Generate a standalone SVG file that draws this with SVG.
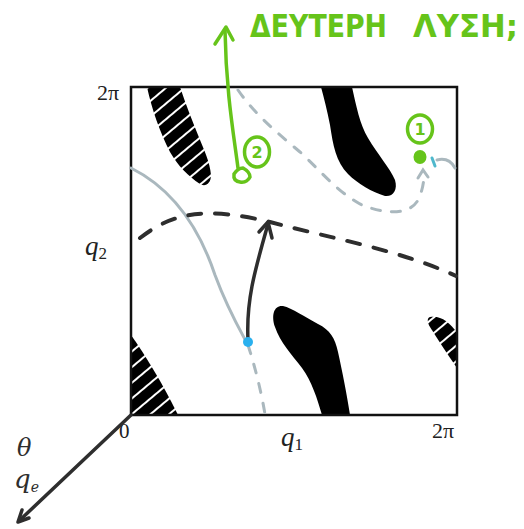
<svg xmlns="http://www.w3.org/2000/svg" width="524" height="529" viewBox="0 0 524 529">
<defs>
<pattern id="hatch" patternUnits="userSpaceOnUse" width="12" height="12" patternTransform="rotate(-40)">
<rect width="12" height="12" fill="#000"/>
<line x1="0" y1="6" x2="12" y2="6" stroke="#fff" stroke-width="2"/>
</pattern>
<style>
.solid{fill:#000}
.hat{fill:url(#hatch)}
.gray{fill:none;stroke:#aab8be;stroke-width:3;stroke-linecap:round}
.gdash{stroke-dasharray:9 11}
.kdash{fill:none;stroke:#2e2e2e;stroke-width:4;stroke-linecap:round;stroke-dasharray:13 14}
.ink{fill:none;stroke:#2e2e2e;stroke-width:3.5;stroke-linecap:round;stroke-linejoin:round}
.grn{fill:none;stroke:#66c41a;stroke-width:3.5;stroke-linecap:round;stroke-linejoin:round}
.lbl{font-family:"Liberation Serif","DejaVu Serif",serif;fill:#222}
.hand{font-family:"DejaVu Sans","Liberation Sans",sans-serif;fill:#66c41a}
</style>
</defs>
<rect width="524" height="529" fill="#fff"/>

<g id="regions">
<path class="hat" d="M 147 87 L 180 87 C 186 105, 192 120, 198 135 C 204 150, 210 162, 211 175 C 211 184, 205 187, 200 184 C 188 176, 178 166, 170 152 C 160 132, 152 110, 147 87 Z"/>
<path class="solid" d="M 321 87 L 352 87 C 356 105, 360 125, 368 138 C 378 155, 390 168, 395 180 C 398 190, 393 197, 385 196 C 372 192, 358 184, 348 174 C 336 162, 333 145, 330 125 C 327 110, 324 98, 321 87 Z"/>
<path class="solid" d="M 322 415 L 350 415 C 347 395, 342 370, 338 352 C 335 338, 330 330, 318 324 C 305 317, 292 308, 283 306 C 274 305, 271 315, 275 327 C 280 342, 292 355, 302 368 C 312 382, 317 398, 322 415 Z"/>
<path class="hat" d="M 131 335 C 145 355, 162 382, 178 415 L 131 415 Z"/>
<path class="hat" d="M 430 317 C 440 315, 450 322, 457 333 L 457 368 C 448 355, 438 340, 430 327 C 427 322, 427 318, 430 317 Z"/>
</g>

<g id="frame">
<rect x="131" y="87" width="326" height="328" fill="none" stroke="#111" stroke-width="2.5"/>
</g>

<g id="labels">
<text class="lbl" x="97" y="100" font-size="22">2π</text>
<text class="lbl" x="432" y="438" font-size="22">2π</text>
<text class="lbl" x="119" y="438" font-size="21" fill="#555">0</text>
<text class="lbl" x="281" y="446" font-size="27"><tspan font-style="italic">q</tspan><tspan font-size="17" dy="4">1</tspan></text>
<text class="lbl" x="85" y="255" font-size="27"><tspan font-style="italic">q</tspan><tspan font-size="17" dy="4">2</tspan></text>
</g>

<g id="connectors">
<path class="gray" d="M 131 168 C 175 190, 200 230, 215 275 C 228 310, 240 330, 248 345"/>
<path class="gray gdash" d="M 248 345 C 256 370, 262 395, 266 420"/>
<path class="gray gdash" d="M 238 90 C 255 115, 280 135, 300 152 C 320 170, 335 190, 360 204 C 385 215, 410 215, 418 200 C 423 190, 424 180, 424 174"/>
<path class="gray" d="M 418 178 L 423 170 L 428 177"/>
<path class="gray" d="M 437 160 Q 449 157 455 168"/>
<path d="M 432 158 L 435 166" stroke="#4fb8cc" stroke-width="3" stroke-linecap="round"/>
<path class="kdash" d="M 140 238 C 170 215, 200 205, 270 222 C 330 238, 400 250, 456 276"/>
<path class="ink" d="M 248 340 C 246 300, 255 270, 268 224"/>
<path class="ink" d="M 259 232 L 268 222 L 272 238"/>
<circle cx="248" cy="342" r="5" fill="#2ab0ee"/>
<path class="ink" d="M 131 415 L 20 520"/>
<path class="ink" d="M 22 510 L 18 522 L 29 518"/>
</g>

<g id="annotations">
<text x="17" y="456" font-family="DejaVu Serif, serif" font-style="italic" font-size="24" fill="#2e2e2e">θ</text>
<text x="14" y="488" font-family="DejaVu Serif, serif" font-style="italic" font-size="26" fill="#2e2e2e">q<tspan font-size="14" dy="4">e</tspan></text>
<path class="grn" d="M 238 168 C 233 130, 226 90, 225 30"/>
<path class="grn" d="M 215 44 L 226 27 L 233 40"/>
<path class="grn" d="M 234 174 Q 238 168 243 168 Q 250 172 250 177 Q 247 183 240 182 Q 233 181 234 174 Z"/>
<ellipse class="grn" cx="257" cy="152" rx="12.5" ry="15"/>
<text class="hand" x="257" y="158" font-size="16" font-weight="bold" text-anchor="middle">2</text>
<ellipse class="grn" cx="420" cy="129" rx="12.5" ry="14"/>
<text class="hand" x="420" y="135" font-size="16" font-weight="bold" text-anchor="middle">1</text>
<ellipse cx="420" cy="157" rx="6.5" ry="7" fill="#66c41a"/>
<text class="hand" y="37" font-size="31" font-weight="bold"><tspan x="250" textLength="137" lengthAdjust="spacingAndGlyphs">ΔΕΥΤΕΡΗ</tspan><tspan x="413" textLength="105" lengthAdjust="spacingAndGlyphs">ΛΥΣΗ;</tspan></text>
</g>
</svg>
